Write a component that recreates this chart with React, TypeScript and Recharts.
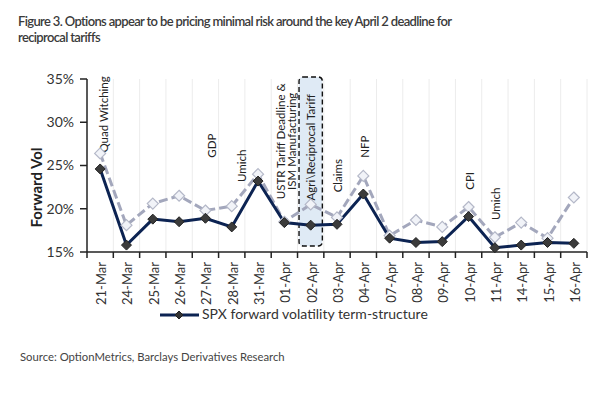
import React from 'react'
import {
  ComposedChart,
  Line,
  XAxis,
  YAxis,
  CartesianGrid,
  Legend,
  ReferenceArea,
  ReferenceDot,
} from 'recharts'

const categories = [
  '21-Mar', '24-Mar', '25-Mar', '26-Mar', '27-Mar', '28-Mar', '31-Mar',
  '01-Apr', '02-Apr', '03-Apr', '04-Apr', '07-Apr', '08-Apr', '09-Apr',
  '10-Apr', '11-Apr', '14-Apr', '15-Apr', '16-Apr',
]

// SPX forward volatility term-structure (solid)
const forwardVol = [
  24.6, 15.8, 18.8, 18.5, 18.9, 17.9, 23.2, 18.4, 18.1, 18.2,
  21.7, 16.6, 16.1, 16.2, 19.1, 15.5, 15.8, 16.1, 16.0,
]

// comparison term-structure (dashed, not in legend)
const priorVol = [
  26.4, 18.1, 20.6, 21.5, 19.8, 20.3, 24.0, 18.5, 20.5, 19.0,
  23.8, 16.9, 18.7, 17.9, 20.2, 16.7, 18.4, 16.6, 21.3,
]

const yTicks = [15, 20, 25, 30, 35]

// event annotations: date, text lines, vol level where the label sits
const eventDates = ['21-Mar', '27-Mar', '28-Mar', '01-Apr', '02-Apr', '03-Apr', '04-Apr', '10-Apr', '11-Apr']
const eventLabels = [
  ['Quad Witching'],
  ['GDP'],
  ['Umich'],
  ['USTR Tariff Deadline &', 'ISM Manufacturing'],
  ['Agri\\Reciprocal Tariff'],
  ['Claims'],
  ['NFP'],
  ['CPI'],
  ['Umich'],
]
const eventLevels = [26.5, 25.9, 23.1, 27.8, 27.1, 21.9, 25.9, 22.2, 18.7]
const eventAnchors = ['start', 'start', 'start', 'middle', 'middle', 'start', 'start', 'start', 'start']
const eventShift = [4, 7, 10, 2, 0, 1, 2, 1, 1]

const highlightDate = '02-Apr'

const FONT = 'Lato, "Noto Sans", sans-serif'
const TEXT = '#333'
const NAVY = '#0c2352'
const GREY = '#a3a7bc'

const CHART_W = 616
const PLOT_LEFT = 87
const PLOT_W = 500
const BAND = PLOT_W / categories.length

const data = categories.map((date, i) => ({
  date,
  forward: forwardVol[i],
  prior: priorVol[i],
}))

function Diamond({ cx, cy, size, fill, stroke, strokeWidth }: any) {
  if (cx == null || cy == null) return null
  const h = size / 2
  return (
    <polygon
      points={`${cx},${cy - h} ${cx + h},${cy} ${cx},${cy + h} ${cx - h},${cy}`}
      fill={fill}
      stroke={stroke}
      strokeWidth={strokeWidth}
    />
  )
}

function XTick({ x, y, payload, index }: any) {
  const last = index === categories.length - 1
  return (
    <g>
      <line x1={x - BAND / 2} x2={x - BAND / 2} y1={y} y2={y + 6} stroke="#222" strokeWidth={1.5} />
      {last && <line x1={x + BAND / 2} x2={x + BAND / 2} y1={y} y2={y + 6} stroke="#222" strokeWidth={1.5} />}
      <text
        x={x + 1}
        y={y + 10}
        transform={`rotate(-90 ${x + 1} ${y + 10})`}
        textAnchor="end"
        dominantBaseline="central"
        fontSize={13}
        fontFamily={FONT}
        fill={TEXT}
      >
        {payload.value}
      </text>
    </g>
  )
}

function EventLabel(i: number) {
  return ({ cx, cy }: any) => {
    if (cx == null || cy == null) return null
    const lines = eventLabels[i]
    const x = cx + eventShift[i]
    const lh = 11
    return (
      <text
        x={x}
        y={cy}
        transform={`rotate(-90 ${x} ${cy})`}
        textAnchor={eventAnchors[i]}
        fontSize={11.5}
        fontFamily={FONT}
        fill="#222"
      >
        {lines.map((t, k) => (
          <tspan key={k} x={x} dy={k === 0 ? -((lines.length - 1) * lh) / 2 + 4 : lh}>
            {t}
          </tspan>
        ))}
      </text>
    )
  }
}

function HighlightBox({ x, y, width, height }: any) {
  return (
    <rect
      x={x + 1.5}
      y={y - 2}
      width={width - 3}
      height={height + 2}
      rx={4}
      fill="#c9dcef"
      fillOpacity={0.6}
      stroke="#111"
      strokeWidth={1.4}
      strokeDasharray="5 3"
    />
  )
}

function LegendContent() {
  return (
    <div style={{ height: 22, position: 'relative', fontFamily: FONT, fontSize: 14, color: TEXT }}>
      <svg width={42} height={22} style={{ position: 'absolute', left: 159, top: 2 }}>
        <line x1={1} x2={40} y1={11} y2={11} stroke={NAVY} strokeWidth={3} />
        <Diamond cx={20} cy={11} size={8} fill="#333" stroke="#222" strokeWidth={1} />
      </svg>
      <span style={{ position: 'absolute', left: 202, top: 3, whiteSpace: 'nowrap' }}>
        SPX forward volatility term-structure
      </span>
    </div>
  )
}

export default function App() {
  return (
    <div
      style={{
        position: 'fixed',
        left: 0,
        top: 0,
        width: CHART_W,
        height: 393,
        background: '#fff',
        fontFamily: FONT,
      }}
    >
      <div
        style={{
          position: 'absolute',
          left: 18,
          top: 13,
          width: 580,
          fontSize: 13,
          lineHeight: '16px',
          fontWeight: 600,
          color: '#3a3a3a',
          letterSpacing: '-0.65px',
          whiteSpace: 'nowrap',
        }}
      >
        Figure 3. Options appear to be pricing minimal risk around the key April 2 deadline for
        <br />
        reciprocal tariffs
      </div>

      <div style={{ position: 'absolute', left: 0, top: 0 }}>
        <ComposedChart
          width={CHART_W}
          height={324}
          data={data}
          margin={{ top: 79, right: CHART_W - PLOT_LEFT - PLOT_W, left: 0, bottom: 0 }}
        >
          <CartesianGrid
            horizontal={false}
            stroke="#ececec"
            verticalCoordinatesGenerator={({ offset }: any) =>
              categories.map((_, i) => offset.left + ((i + 1) * offset.width) / categories.length)
            }
          />
          <XAxis
            dataKey="date"
            scale="band"
            interval={0}
            height={50}
            tickSize={0}
            tickMargin={0}
            tick={<XTick />}
            axisLine={{ stroke: '#222', strokeWidth: 1.5 }}
            tickLine={false}
          />
          <YAxis
            width={PLOT_LEFT}
            domain={[15, 35]}
            ticks={yTicks}
            tickFormatter={(v) => `${v}%`}
            tickSize={7}
            tickMargin={6}
            tick={{ fontSize: 14, fontFamily: FONT, fill: TEXT }}
            axisLine={{ stroke: '#222', strokeWidth: 1.5 }}
            tickLine={{ stroke: '#222', strokeWidth: 1.5 }}
            label={{
              value: 'Forward Vol',
              angle: -90,
              position: 'insideLeft',
              offset: 0,
              content: ({ viewBox }: any) => (
                <text
                  x={viewBox.x + 36}
                  y={viewBox.y + viewBox.height / 2 + 22}
                  transform={`rotate(-90 ${viewBox.x + 36} ${viewBox.y + viewBox.height / 2 + 22})`}
                  textAnchor="middle"
                  dominantBaseline="central"
                  fontSize={15}
                  fontWeight={700}
                  fontFamily={FONT}
                  fill="#222"
                >
                  Forward Vol
                </text>
              ),
            }}
          />
          <Legend verticalAlign="bottom" content={<LegendContent />} />
          <Line
            dataKey="prior"
            legendType="none"
            stroke={GREY}
            strokeWidth={3}
            strokeDasharray="9 4"
            dot={(p: any) => <Diamond key={p.index} cx={p.cx} cy={p.cy} size={11} fill="#f1f3f8" stroke="#b4b8c8" strokeWidth={1.2} />}
            activeDot={false}
            isAnimationActive={false}
          />
          <Line
            dataKey="forward"
            name="SPX forward volatility term-structure"
            stroke={NAVY}
            strokeWidth={3}
            dot={(p: any) => <Diamond key={p.index} cx={p.cx} cy={p.cy} size={10} fill="#3b3b3b" stroke="#222" strokeWidth={1} />}
            activeDot={false}
            isAnimationActive={false}
          />
          <ReferenceArea
            x1={highlightDate}
            x2={highlightDate}
            y1={15.7}
            y2={35}
            shape={<HighlightBox />}
            ifOverflow="visible"
          />
          {eventDates.map((d, i) => (
            <ReferenceDot
              key={`ev-${i}`}
              x={d}
              y={eventLevels[i]}
              r={1}
              shape={EventLabel(i)}
              ifOverflow="visible"
            />
          ))}
        </ComposedChart>
      </div>

      <div
        style={{
          position: 'absolute',
          left: 20,
          top: 350,
          fontSize: 11.3,
          color: '#444',
          whiteSpace: 'nowrap',
        }}
      >
        Source: OptionMetrics, Barclays Derivatives Research
      </div>
    </div>
  )
}
